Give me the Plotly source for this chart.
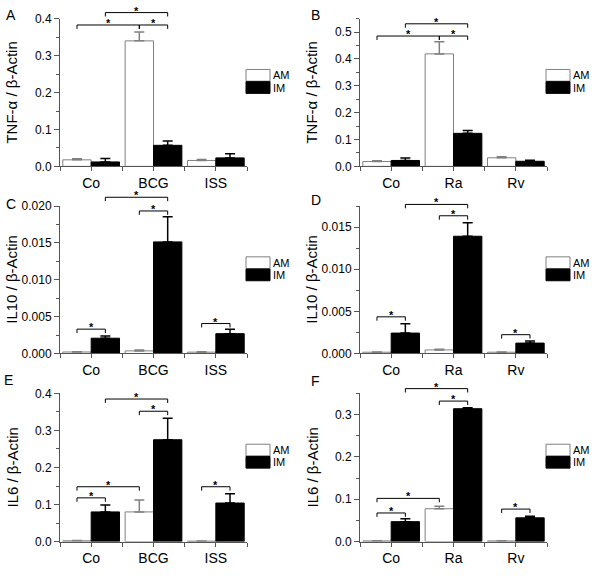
import plotly.graph_objects as go

W, H = 600, 582

cats_bcg = ['Co', 'BCG', 'ISS']
cats_ra = ['Co', 'Ra', 'Rv']

# TNF-alpha
tnf_bcg_am = [0.0177, 0.340, 0.016]
tnf_bcg_am_err = [0.003, 0.024, 0.0025]
tnf_bcg_im = [0.012, 0.057, 0.023]
tnf_bcg_im_err = [0.009, 0.012, 0.011]
tnf_ra_am = [0.018, 0.419, 0.032]
tnf_ra_am_err = [0.003, 0.045, 0.004]
tnf_ra_im = [0.022, 0.123, 0.019]
tnf_ra_im_err = [0.009, 0.011, 0.004]

# IL10
il10_bcg_am = [0.0002, 0.00035, 0.00018]
il10_bcg_am_err = [0.00004, 0.00012, 0.00004]
il10_bcg_im = [0.00207, 0.01514, 0.00269]
il10_bcg_im_err = [0.0003, 0.0034, 0.0006]
il10_ra_am = [0.00015, 0.00042, 0.00015]
il10_ra_am_err = [0.00003, 0.00008, 0.00003]
il10_ra_im = [0.00242, 0.01392, 0.00123]
il10_ra_im_err = [0.0011, 0.0016, 0.00025]

# IL6
il6_bcg_am = [0.002, 0.080, 0.001]
il6_bcg_am_err = [0.0005, 0.032, 0.0005]
il6_bcg_im = [0.080, 0.275, 0.104]
il6_bcg_im_err = [0.019, 0.058, 0.025]
il6_ra_am = [0.0015, 0.0775, 0.0015]
il6_ra_am_err = [0.0005, 0.006, 0.0005]
il6_ra_im = [0.047, 0.314, 0.056]
il6_ra_im_err = [0.007, 0.002, 0.004]

# significance brackets: (group1, series1, group2, series2, height)
sig_a = [(0, 'AM', 1, 'AM', 0.383), (1, 'AM', 1, 'IM', 0.383), (0, 'IM', 1, 'IM', 0.4166)]
sig_b = [(0, 'AM', 1, 'AM', 0.4855), (1, 'AM', 1, 'IM', 0.4855), (0, 'IM', 1, 'IM', 0.531)]
sig_c = [(0, 'AM', 0, 'IM', 0.0033), (1, 'AM', 1, 'IM', 0.01934), (0, 'IM', 1, 'IM', 0.0212),
         (2, 'AM', 2, 'IM', 0.00406)]
sig_d = [(0, 'AM', 0, 'IM', 0.00435), (1, 'AM', 1, 'IM', 0.01635), (0, 'IM', 1, 'IM', 0.0177),
         (2, 'AM', 2, 'IM', 0.00223)]
sig_e = [(0, 'AM', 0, 'IM', 0.118), (0, 'AM', 1, 'AM', 0.148), (1, 'AM', 1, 'IM', 0.352),
         (0, 'IM', 1, 'IM', 0.385), (2, 'AM', 2, 'IM', 0.148)]
sig_f = [(0, 'AM', 0, 'IM', 0.0675), (0, 'AM', 1, 'AM', 0.102), (1, 'AM', 1, 'IM', 0.332),
         (0, 'IM', 1, 'IM', 0.3615), (2, 'AM', 2, 'IM', 0.0767)]

panels = [
    dict(letter='A', title='TNF-α / β-Actin', cats=cats_bcg, am=tnf_bcg_am, am_err=tnf_bcg_am_err,
         im=tnf_bcg_im, im_err=tnf_bcg_im_err, ymax=0.4, dtick=0.1, fmt='.1f', sig=sig_a),
    dict(letter='B', title='TNF-α / β-Actin', cats=cats_ra, am=tnf_ra_am, am_err=tnf_ra_am_err,
         im=tnf_ra_im, im_err=tnf_ra_im_err, ymax=0.55, dtick=0.1, fmt='.1f', sig=sig_b),
    dict(letter='C', title='IL10 / β-Actin', cats=cats_bcg, am=il10_bcg_am, am_err=il10_bcg_am_err,
         im=il10_bcg_im, im_err=il10_bcg_im_err, ymax=0.020, dtick=0.005, fmt='.3f', sig=sig_c),
    dict(letter='D', title='IL10 / β-Actin', cats=cats_ra, am=il10_ra_am, am_err=il10_ra_am_err,
         im=il10_ra_im, im_err=il10_ra_im_err, ymax=0.0175, dtick=0.005, fmt='.3f', sig=sig_d),
    dict(letter='E', title='IL6 / β-Actin', cats=cats_bcg, am=il6_bcg_am, am_err=il6_bcg_am_err,
         im=il6_bcg_im, im_err=il6_bcg_im_err, ymax=0.4, dtick=0.1, fmt='.1f', sig=sig_e),
    dict(letter='F', title='IL6 / β-Actin', cats=cats_ra, am=il6_ra_am, am_err=il6_ra_am_err,
         im=il6_ra_im, im_err=il6_ra_im_err, ymax=0.35, dtick=0.1, fmt='.1f', sig=sig_f),
]

# pixel layout of the panels
col_x = [(60, 247), (360, 547)]
row_y = [(12, 163.3), (204, 355), (396, 547.7)]
letter_pos = [(11, 8), (316, 8), (11, 202), (316, 198), (8, 382), (315, 383)]

AXC = '#555555'
FONT = 'Liberation Sans, Arial, sans-serif'
OFF = 0.2275

fig = go.Figure()
shapes = []
annotations = []


def px(x):
    return x / W


def py(y):
    return 1 - y / H


for i, p in enumerate(panels):
    n = i + 1
    xa = 'x' if n == 1 else 'x%d' % n
    ya = 'y' if n == 1 else 'y%d' % n
    row, col = i // 2, i % 2
    x0, x1 = col_x[col]
    yt, yb = row_y[row]

    fig.add_trace(go.Bar(
        x=[0, 1, 2], y=p['am'], name='AM', xaxis=xa, yaxis=ya, showlegend=False,
        marker=dict(color='white', line=dict(color='#808080', width=1)),
        error_y=dict(type='data', array=p['am_err'], arrayminus=[0, 0, 0], symmetric=False,
                     color='#808080', thickness=1.5, width=5)))
    fig.add_trace(go.Bar(
        x=[0, 1, 2], y=p['im'], name='IM', xaxis=xa, yaxis=ya, showlegend=False,
        marker=dict(color='black', line=dict(color='black', width=1)),
        error_y=dict(type='data', array=p['im_err'], arrayminus=[0, 0, 0], symmetric=False,
                     color='black', thickness=1.5, width=5)))

    xkey = 'xaxis' if n == 1 else 'xaxis%d' % n
    ykey = 'yaxis' if n == 1 else 'yaxis%d' % n
    fig.layout[xkey] = dict(
        domain=[px(x0), px(x1)], anchor=ya, range=[-0.5, 2.5],
        tickvals=[0, 1, 2], ticktext=p['cats'], ticks='outside', ticklen=4, tickcolor=AXC,
        minor=dict(tickvals=[-0.5, 0.5, 1.5, 2.5], ticks='outside', ticklen=4, tickcolor=AXC),
        showline=True, linecolor=AXC, linewidth=1, showgrid=False, zeroline=False,
        tickfont=dict(size=14, color='black', family=FONT), fixedrange=True)
    fig.layout[ykey] = dict(
        domain=[py(yb), py(yt)], anchor=xa, range=[0, p['ymax']],
        dtick=p['dtick'], tick0=0, tickformat=p['fmt'], ticks='outside', ticklen=5, tickcolor=AXC,
        minor=dict(dtick=p['dtick'] / 2, ticks='outside', ticklen=3, tickcolor=AXC),
        showline=True, linecolor=AXC, linewidth=1, showgrid=False, zeroline=False,
        tickfont=dict(size=12, color='black', family=FONT), fixedrange=True)

    # helpers mapping data to paper for the brackets
    def bx(g, s):
        xv = g + (-OFF if s == 'AM' else OFF)
        return px(x0 + (xv + 0.5) / 3 * (x1 - x0))

    def by(v):
        return py(yb - v / p['ymax'] * (yb - yt))

    tick = 4 / H
    for g1, s1, g2, s2, h in p['sig']:
        xa1, xa2, yy = bx(g1, s1), bx(g2, s2), by(h)
        line = dict(color='black', width=1)
        shapes.append(dict(type='line', xref='paper', yref='paper', x0=xa1, x1=xa2, y0=yy, y1=yy, line=line))
        shapes.append(dict(type='line', xref='paper', yref='paper', x0=xa1, x1=xa1, y0=yy, y1=yy - tick, line=line))
        shapes.append(dict(type='line', xref='paper', yref='paper', x0=xa2, x1=xa2, y0=yy, y1=yy - tick, line=line))
        annotations.append(dict(text='<b>*</b>', xref='paper', yref='paper', x=(xa1 + xa2) / 2, y=yy + 2 / H,
                                xanchor='center', yanchor='middle', showarrow=False,
                                font=dict(size=11, color='#000000', family=FONT)))

    # legend drawn by hand
    lx0, lx1 = x1 - 1, x1 + 23
    for k, (lab, fill, edge) in enumerate([('AM', 'white', '#808080'), ('IM', 'black', 'black')]):
        top = yt + 52 + k * 12.5
        shapes.append(dict(type='rect', xref='paper', yref='paper', x0=px(lx0), x1=px(lx1),
                           y0=py(top + 12), y1=py(top), fillcolor=fill, line=dict(color=edge, width=1)))
        annotations.append(dict(text=lab, xref='paper', yref='paper', x=px(lx1 + 1), y=py(top + 6),
                                xanchor='left', yanchor='middle', showarrow=False,
                                font=dict(size=11, color='black', family=FONT)))

    # y axis title
    annotations.append(dict(text=p['title'], xref='paper', yref='paper', x=px(x0 - 48),
                            y=py((yt + yb) / 2), textangle=-90, xanchor='center', yanchor='middle',
                            showarrow=False, font=dict(size=15, color='black', family=FONT)))
    # panel letter
    lx, ly = letter_pos[i]
    annotations.append(dict(text=p['letter'], xref='paper', yref='paper', x=px(lx), y=py(ly),
                            xanchor='center', yanchor='middle', showarrow=False,
                            font=dict(size=14, color='black', family=FONT)))

fig.update_layout(
    width=W, height=H, margin=dict(l=0, r=0, t=0, b=0),
    paper_bgcolor='white', plot_bgcolor='white',
    barmode='group', bargap=0.09, bargroupgap=0,
    shapes=shapes, annotations=annotations, showlegend=False,
    font=dict(family=FONT, color='black'))

# drop the default page margin so the figure sits at the window origin
fig.write_html("out.html", config={'displayModeBar': False},
               post_script="document.body.style.margin='0';")
